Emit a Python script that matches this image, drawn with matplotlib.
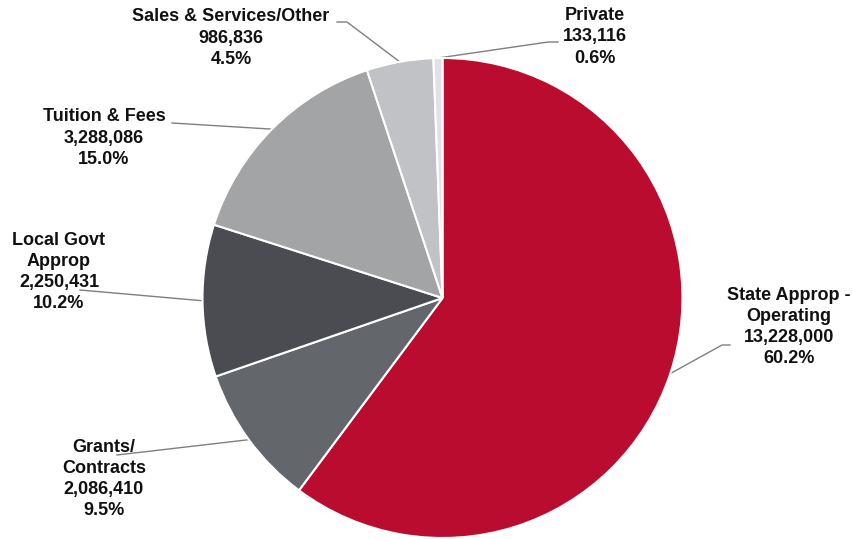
import numpy as np
import matplotlib
matplotlib.use('Agg')
import matplotlib.pyplot as plt

plt.rcParams['font.family'] = ['Liberation Sans', 'DejaVu Sans']

# revenue sources
labels = ['State Approp -\nOperating', 'Grants/\nContracts', 'Local Govt\nApprop',
          'Tuition & Fees', 'Sales & Services/Other', 'Private']
values = [13228000, 2086410, 2250431, 3288086, 986836, 133116]
colors = ['#BA0C2F', '#63666A', '#4B4C51', '#A2A4A6', '#C1C2C5', '#E1E2E4']

# label block centres and leader line outer points (pixels, y from top)
text_pos = [(789, 327), (104, 479), (59, 272), (104, 138), (231, 38), (595, 37)]
leader_out = [[(722, 345), (730, 345)], [(117, 455)], [(80, 290)],
              [(172, 123)], [(347, 22), (337, 22)], [(548, 42), (558, 42)]]

W, H = 854, 539
cx, cy, r = 442.5, 298, 240

fig = plt.figure(figsize=(W / 100, H / 100), dpi=100)
ax = fig.add_axes([0, 0, 1, 1])

total = sum(values)
wedges, _ = ax.pie(values, colors=colors, startangle=90, counterclock=False,
                   center=(cx, H - cy), radius=r,
                   wedgeprops=dict(edgecolor='white', linewidth=1.5))

for w, lab, v, (tx, ty), pts in zip(wedges, labels, values, text_pos, leader_out):
    mid = np.deg2rad((w.theta1 + w.theta2) / 2)
    ex, ey = cx + r * np.cos(mid), (H - cy) + r * np.sin(mid)
    xs = [ex] + [p[0] for p in pts]
    ys = [ey] + [H - p[1] for p in pts]
    ax.plot(xs, ys, color='#7F7F7F', lw=1.0, zorder=0)
    ax.text(tx, H - ty, f'{lab}\n{v:,}\n{v / total * 100:.1f}%',
            ha='center', va='center', fontsize=13, fontweight='bold',
            color='#111111', linespacing=1.32)

ax.set_xlim(0, W)
ax.set_ylim(0, H)
ax.set_aspect('equal')
ax.axis('off')

fig.savefig('out.png', dpi=100, facecolor='white')
